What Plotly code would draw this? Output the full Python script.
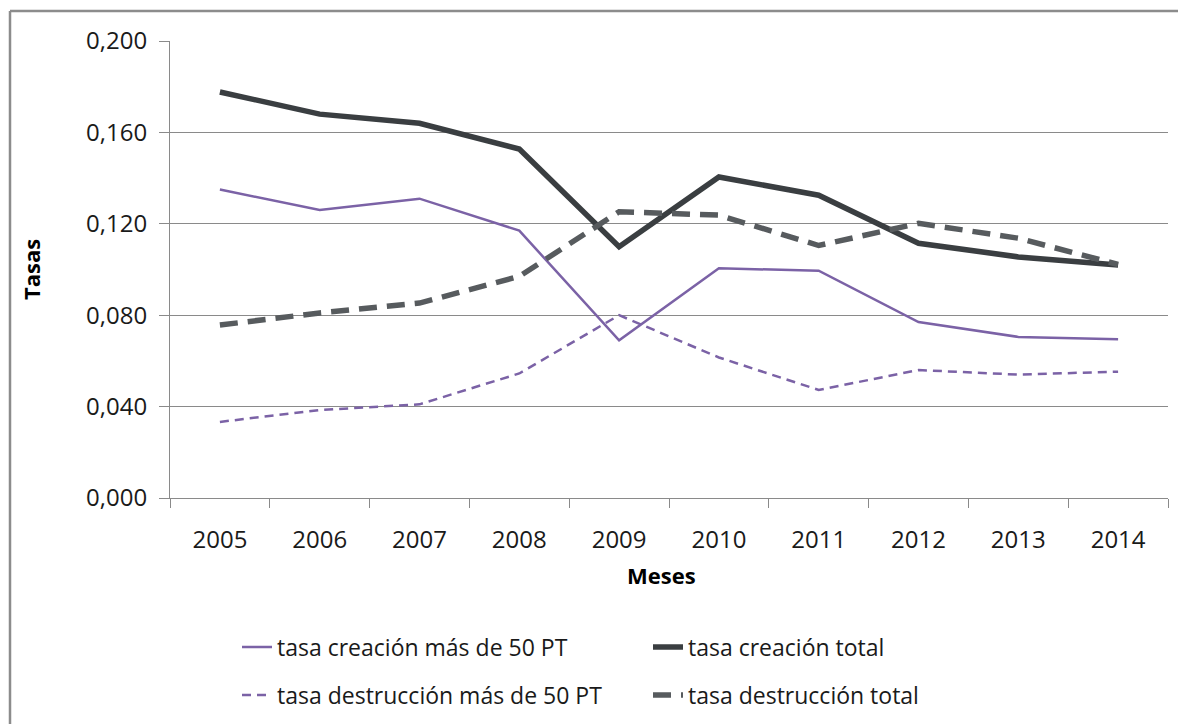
import plotly.graph_objects as go

years = ["2005", "2006", "2007", "2008", "2009", "2010", "2011", "2012", "2013", "2014"]
creacion_50 = [0.135, 0.126, 0.131, 0.117, 0.069, 0.1005, 0.0995, 0.077, 0.0705, 0.0695]
creacion_total = [0.1777, 0.168, 0.164, 0.1527, 0.110, 0.1405, 0.1325, 0.1115, 0.1055, 0.102]
destruccion_50 = [0.0333, 0.0385, 0.041, 0.0545, 0.080, 0.0615, 0.0473, 0.056, 0.054, 0.0553]
destruccion_total = [0.0757, 0.081, 0.0853, 0.097, 0.1253, 0.1238, 0.1105, 0.1202, 0.1137, 0.1022]

y_ticks = [0.0, 0.04, 0.08, 0.12, 0.16, 0.2]

PURPLE = "#7B62A6"
DARK = "#3A3E41"
DARK_D = "#575B5E"
GRID = "#8A8A8A"
FONT = "Open Sans"

# page offset of the plotly div (default body margin)
OFF = 8
W, H = 1186 - OFF, 724 - OFF
# plot area in page pixels
PL, PR, PT, PB = 170, 1168, 41, 498
L, R, T, B = PL - OFF, PR - OFF, PT - OFF, PB - OFF

fig = go.Figure()
fig.add_trace(go.Scatter(x=years, y=creacion_50, mode="lines", name="tasa creación más de 50 PT",
                         line=dict(color=PURPLE, width=2.5), legend="legend"))
fig.add_trace(go.Scatter(x=years, y=creacion_total, mode="lines", name="tasa creación total",
                         line=dict(color=DARK, width=5.5), legend="legend2"))
fig.add_trace(go.Scatter(x=years, y=destruccion_50, mode="lines", name="tasa destrucción más de 50 PT",
                         line=dict(color=PURPLE, width=2.5, dash="9px,6px"), legend="legend3"))
fig.add_trace(go.Scatter(x=years, y=destruccion_total, mode="lines", name="tasa destrucción total",
                         line=dict(color=DARK_D, width=5.5, dash="18px,10px"), legend="legend4"))


def px(xpage):
    return (xpage - OFF - L) / (R - L)


def py(ypage):
    return (B - (ypage - OFF)) / (B - T)


leg_font = dict(family=FONT, size=23, color="#1a1a1a")
legend_common = dict(font=leg_font, bgcolor="rgba(0,0,0,0)", xanchor="left", yanchor="middle",
                     itemwidth=30, tracegroupgap=0)

tick_font = dict(family=FONT, size=24, color="#1a1a1a")

fig.update_layout(
    width=W, height=H,
    margin=dict(l=L, r=W - R, t=T, b=H - B, autoexpand=False),
    paper_bgcolor="white", plot_bgcolor="white",
    separators=",.",
    font=dict(family=FONT, size=20, color="#1a1a1a"),
    showlegend=True,
    legend=dict(x=px(237), y=py(647), **legend_common),
    legend2=dict(x=px(648), y=py(647), **legend_common),
    legend3=dict(x=px(237), y=py(695), **legend_common),
    legend4=dict(x=px(648), y=py(695), **legend_common),
    xaxis=dict(
        type="category", tickson="boundaries", ticks="outside", ticklen=9, tickcolor=GRID,
        showgrid=False, showline=True, linecolor=GRID, linewidth=1,
        tickfont=tick_font, range=[-0.5, 9.5], ticklabelstandoff=20,
    ),
    yaxis=dict(
        range=[0, 0.2], tickvals=y_ticks, tickformat=".3f", ticks="outside", ticklen=10,
        tickcolor=GRID, showgrid=True, gridcolor=GRID, gridwidth=1,
        showline=True, linecolor=GRID, linewidth=1, zeroline=False,
        tickfont=tick_font, ticklabelstandoff=7,
    ),
    shapes=[
        dict(type="line", xref="paper", yref="paper", x0=px(10), x1=px(1200), y0=py(11), y1=py(11),
             line=dict(color="#8C8C8C", width=2.5)),
        dict(type="line", xref="paper", yref="paper", x0=px(10), x1=px(10), y0=py(11), y1=py(740),
             line=dict(color="#8C8C8C", width=2.5)),
    ],
    annotations=[
        dict(text="<b>Meses</b>", xref="paper", yref="paper", x=px(661), y=py(575),
             showarrow=False, font=dict(family=FONT, size=22, color="#000"), xanchor="center", yanchor="middle"),
        dict(text="<b>Tasas</b>", xref="paper", yref="paper", x=px(31), y=py(270), textangle=-90,
             showarrow=False, font=dict(family=FONT, size=22, color="#000"), xanchor="center", yanchor="middle"),
    ],
)

fig.write_html("out.html")
